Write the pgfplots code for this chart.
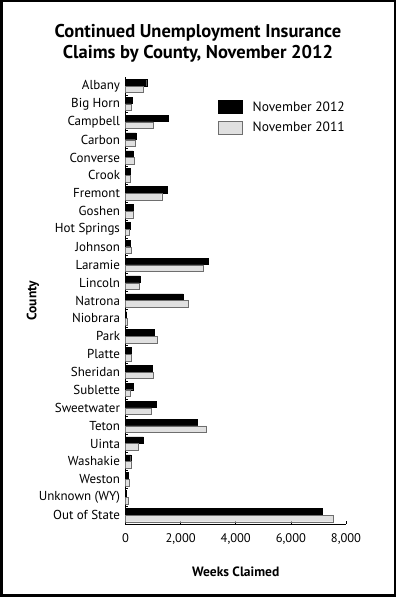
\documentclass[border=0pt]{standalone}
\usepackage{pgfplots}
\pgfplotsset{compat=1.18}
\usepackage{fontspec}
\setmainfont{PT Sans}
\definecolor{lgray}{HTML}{E0E0E0}
\definecolor{dgray}{HTML}{6E6E6E}
\begin{document}
\begin{tikzpicture}
\useasboundingbox (0,0) rectangle (396pt,597pt);
\draw[line width=2.5pt] (1.25pt,1.25pt) rectangle (394.75pt,595.75pt);
\node[font=\fontsize{18.5}{21}\selectfont\bfseries, align=center] at (198pt,554pt) {Continued Unemployment Insurance\\Claims by County, November 2012};
\begin{axis}[
  at={(125.5pt,73pt)}, anchor=south west,
  scale only axis, width=220.5pt, height=447pt,
  xbar, bar width=6.5pt,
  xmin=0, xmax=8000, ymin=-0.5, ymax=24.5,
  axis x line*=bottom, axis y line*=left,
  xtick={0,2000,4000,6000,8000},
  xticklabels={0,{2,000},{4,000},{6,000},{8,000}},
  ytick={0,...,24},
  yticklabels={Out of State,Unknown (WY),Weston,Washakie,Uinta,Teton,Sweetwater,Sublette,Sheridan,Platte,Park,Niobrara,Natrona,Lincoln,Laramie,Johnson,Hot Springs,Goshen,Fremont,Crook,Converse,Carbon,Campbell,Big Horn,Albany},
  minor ytick={0.5,1.5,...,23.5},
  major y tick style={draw=none},
  minor tick length=3pt,
  major tick length=3pt,
  tick align=inside,
  tick style={black, line width=0.6pt},
  axis line style={line width=0.8pt},
  /pgf/number format/assume math mode=true,
  yticklabel style={font=\fontsize{13}{14}\selectfont, xshift=-2pt},
  xticklabel style={font=\fontsize{12.5}{13}\selectfont, yshift=-6pt},
  xlabel={Weeks Claimed},
  ylabel={County},
  xlabel style={font=\fontsize{13.5}{14}\selectfont\bfseries, at={(axis description cs:0.5,-0.107)}, anchor=center},
  ylabel style={font=\fontsize{13.5}{14}\selectfont\bfseries, at={(axis description cs:-0.42,0.5)}, anchor=center},
  legend style={at={(axis description cs:0.42,0.95)}, anchor=north west, draw=none, fill=none,
    font=\fontsize{13.5}{14}\selectfont, row sep=5pt, inner sep=0pt},
  legend image code/.code={\draw[#1, bar shift=0pt] (0pt,-6.5pt) rectangle (24pt,6.5pt); \path (32pt,0pt);},
  legend cell align=left,
]
\addplot[fill=black, draw=black, bar shift=3.4pt] coordinates {
(7130,0) (40,1) (100,2) (190,3) (650,4) (2610,5) (1120,6) (270,7) (960,8) (210,9)
(1050,10) (40,11) (2090,12) (527,13) (3010,14) (165,15) (175,16) (270,17) (1500,18) (175,19)
(270,20) (390,21) (1560,22) (250,23) (770,24)};
\addlegendentry{November 2012}
\addplot[fill=lgray, draw=dgray, bar shift=-3.4pt] coordinates {
(7530,0) (100,1) (140,2) (190,3) (470,4) (2940,5) (940,6) (175,7) (1010,8) (210,9)
(1160,10) (65,11) (2270,12) (490,13) (2830,14) (210,15) (140,16) (270,17) (1315,18) (165,19)
(320,20) (360,21) (1010,22) (200,23) (650,24)};
\addlegendentry{November 2011}
\end{axis}
\end{tikzpicture}
\end{document}
